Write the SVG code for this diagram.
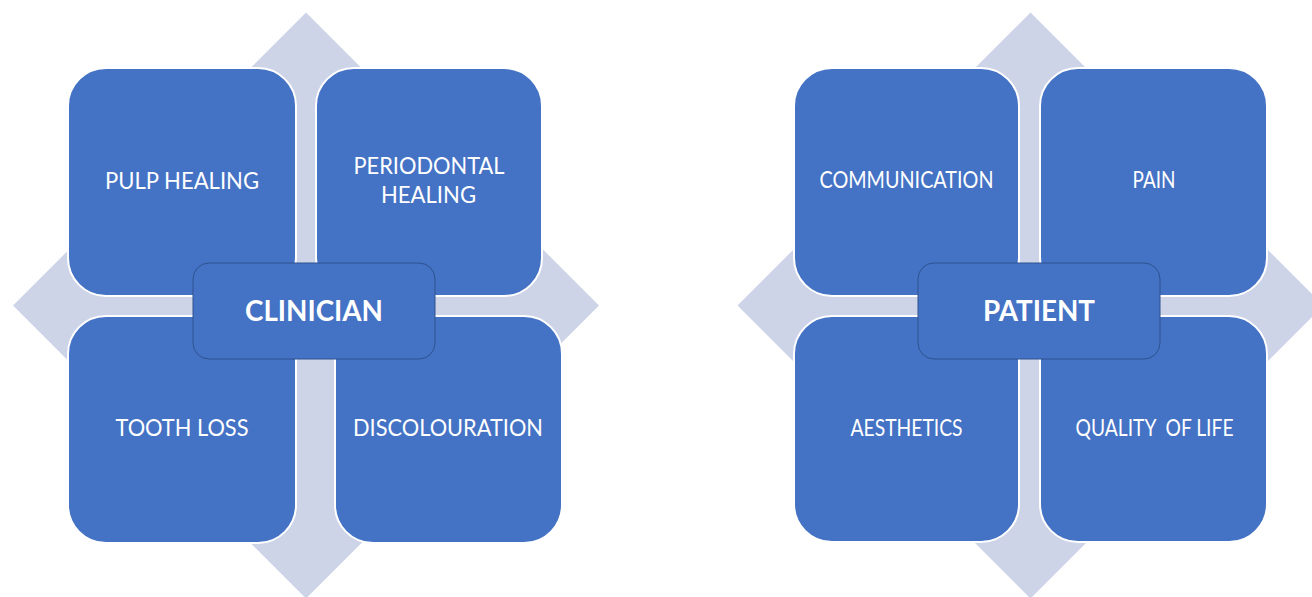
<svg xmlns="http://www.w3.org/2000/svg" width="1312" height="597" viewBox="0 0 1312 597">
  <style>
    .cross { fill: #CED4E8; }
    .tile { fill: #4472C4; stroke: #FFFFFF; stroke-width: 2; }
    .hub { fill: #4472C4; stroke: #2F528F; stroke-width: 1; }
    .lbl { font-family: Lato, "Open Sans", "Liberation Sans", sans-serif; font-size: 23.5px; fill: #FFFFFF; text-anchor: middle; }
    .hubtxt { font-family: Lato, "Open Sans", "Liberation Sans", sans-serif; font-size: 29px; font-weight: bold; fill: #FFFFFF; text-anchor: middle; }
  </style>
  <defs>
    <!-- four-way arrow drawn around the origin -->
    <path id="fourway" d="M0,-293 L110,-183 L30,-183 L30,-30 L183,-30 L183,-110 L293,0 L183,110 L183,30 L30,30 L30,183 L110,183 L0,293 L-110,183 L-30,183 L-30,30 L-183,30 L-183,110 L-293,0 L-183,-110 L-183,-30 L-30,-30 L-30,-183 L-110,-183 Z"/>
  </defs>

  <rect width="1312" height="597" fill="#FFFFFF"/>

  <!-- background arrows -->
  <g id="connectors">
    <use href="#fourway" class="cross" transform="translate(306,305.5)"/>
    <use href="#fourway" class="cross" transform="translate(1030.5,305.5)"/>
  </g>

  <!-- clinician matrix -->
  <g id="pulp-healing">
    <rect class="tile" x="68" y="68" width="228" height="228" rx="38"/>
    <text class="lbl" x="182" y="189" textLength="154" lengthAdjust="spacingAndGlyphs">PULP HEALING</text>
  </g>
  <g id="periodontal-healing">
    <rect class="tile" x="316" y="68" width="226" height="228" rx="38"/>
    <text class="lbl" x="429" y="174" textLength="151" lengthAdjust="spacingAndGlyphs">PERIODONTAL</text>
    <text class="lbl" x="428.5" y="203" textLength="95" lengthAdjust="spacingAndGlyphs">HEALING</text>
  </g>
  <g id="tooth-loss">
    <rect class="tile" x="68" y="316" width="228" height="227" rx="38"/>
    <text class="lbl" x="182" y="436" textLength="133" lengthAdjust="spacingAndGlyphs">TOOTH LOSS</text>
  </g>
  <g id="discolouration">
    <rect class="tile" x="335" y="316" width="227" height="227" rx="38"/>
    <text class="lbl" x="448" y="436" textLength="190" lengthAdjust="spacingAndGlyphs">DISCOLOURATION</text>
  </g>
  <g id="clinician">
    <rect class="hub" x="193" y="263" width="242" height="96" rx="16"/>
    <text class="hubtxt" x="314" y="321" textLength="138" lengthAdjust="spacingAndGlyphs">CLINICIAN</text>
  </g>

  <!-- patient matrix -->
  <g id="communication">
    <rect class="tile" x="794" y="68" width="225" height="228" rx="38"/>
    <text class="lbl" x="906.5" y="188" textLength="174" lengthAdjust="spacingAndGlyphs">COMMUNICATION</text>
  </g>
  <g id="pain">
    <rect class="tile" x="1040" y="68" width="227" height="228" rx="38"/>
    <text class="lbl" x="1154" y="188" textLength="43" lengthAdjust="spacingAndGlyphs">PAIN</text>
  </g>
  <g id="aesthetics">
    <rect class="tile" x="794" y="316" width="225" height="226" rx="38"/>
    <text class="lbl" x="906.5" y="436" textLength="112" lengthAdjust="spacingAndGlyphs">AESTHETICS</text>
  </g>
  <g id="quality-of-life">
    <rect class="tile" x="1040" y="316" width="227" height="226" rx="38"/>
    <text class="lbl" x="1154.5" y="436" xml:space="preserve" textLength="158" lengthAdjust="spacingAndGlyphs">QUALITY  OF LIFE</text>
  </g>
  <g id="patient">
    <rect class="hub" x="918" y="263" width="242" height="96" rx="16"/>
    <text class="hubtxt" x="1039" y="321" textLength="112" lengthAdjust="spacingAndGlyphs">PATIENT</text>
  </g>
</svg>
